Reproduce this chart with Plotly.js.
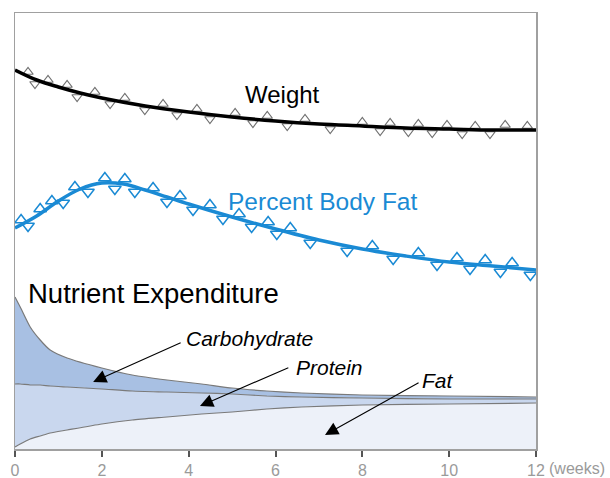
<!DOCTYPE html>
<html>
<head>
<meta charset="utf-8">
<script src="https://cdn.plot.ly/plotly-3.0.1.min.js"></script>
<style>html,body{margin:0;padding:0;background:#fff;}#chart{width:610px;height:478px;}</style>
</head>
<body>
<div id="chart"></div>
<script>
// ---- data (x in weeks, y in arbitrary chart units) ----
const tickVals = [0, 2, 4, 6, 8, 10, 12];
const tickText = ["0", "2", "4", "6", "8", "10", "12"];

const weightWeeks = [0, 0.5, 1, 1.5, 2, 3, 4, 5, 6, 7, 8, 9, 10, 11, 12];
const weightTrend = [379, 369, 362, 356, 351, 343, 337, 332, 328, 325, 323, 321, 320, 319, 319];
const weightObsWeeks = [0.30, 0.46, 0.76, 1.20, 1.43, 1.84, 2.19, 2.53, 2.99, 3.41, 3.73, 4.19, 4.49, 5.07, 5.48, 5.81, 6.27, 6.68, 7.26, 8.00, 8.41, 8.64, 9.06, 9.29, 9.61, 9.95, 10.30, 10.60, 10.94, 11.29, 11.80];
const weightObs = [377, 365, 369, 364, 352, 357, 345, 351, 339, 345, 334, 340, 330, 336, 326, 333, 323, 330, 320, 327, 318, 326, 317, 325, 316, 324, 315, 323, 315, 324, 323];

const bodyFatWeeks = [0, 0.5, 1, 1.5, 2, 2.5, 3, 3.5, 4, 5, 6, 7, 8, 9, 10, 11, 12];
const bodyFatTrend = [221, 233, 248, 260, 266, 265, 259, 252, 245, 232, 220, 209, 200, 193, 187, 183, 179];
const bodyFatObsWeeks = [0.14, 0.30, 0.58, 0.85, 1.11, 1.38, 1.68, 2.07, 2.30, 2.53, 2.76, 3.18, 3.50, 3.80, 4.10, 4.49, 4.79, 5.16, 5.45, 5.83, 6.03, 6.34, 6.80, 7.65, 8.23, 8.71, 9.29, 9.72, 10.18, 10.48, 10.83, 11.18, 11.45, 11.87];
const bodyFatObs = [229, 223, 240, 248, 246, 262, 257, 271, 260, 270, 257, 261, 247, 253, 239, 244, 230, 235, 222, 227, 215, 221, 206, 198, 203, 190, 196, 184, 191, 180, 189, 177, 186, 174];

const nutrientWeeks = [0, 0.12, 0.35, 0.58, 0.81, 1.2, 2, 2.7, 3.5, 4.3, 5, 5.8, 6.6, 8, 10, 12];
const fatExp = [2, 5, 10, 13, 16, 19, 25, 29, 32, 35, 37, 40, 42, 44, 45, 46];
const proteinExp = [63, 60, 54, 51, 47, 43, 35, 29, 25, 21, 18, 13, 10, 7, 5, 4];
const carbExp = [87, 77, 58, 45, 36, 29, 21, 16, 12, 9, 6, 5, 4, 3, 3, 2];

// ---- helpers ----
function interp(xs, ys, x) {
  if (x <= xs[0]) return ys[0];
  for (let i = 1; i < xs.length; i++) {
    if (x <= xs[i]) {
      const t = (x - xs[i - 1]) / (xs[i] - xs[i - 1]);
      return ys[i - 1] + t * (ys[i] - ys[i - 1]);
    }
  }
  return ys[ys.length - 1];
}
function symbolsFor(obsX, obsY, trendX, trendY) {
  return obsX.map((x, i) => obsY[i] >= interp(trendX, trendY, x) ? "triangle-up-open" : "triangle-down-open");
}

const blue = "#1a8ad4";
const edge = "#7a7a7a";
const FONT = "Liberation Sans, Arial, sans-serif";

const traces = [
  {x: nutrientWeeks, y: fatExp, type: "scatter", mode: "lines", stackgroup: "n",
   line: {color: edge, width: 1.2, shape: "spline", smoothing: 0.6}, fillcolor: "#edf1f9", hoverinfo: "skip"},
  {x: nutrientWeeks, y: proteinExp, type: "scatter", mode: "lines", stackgroup: "n",
   line: {color: edge, width: 1.2, shape: "spline", smoothing: 0.6}, fillcolor: "#c9d7ee", hoverinfo: "skip"},
  {x: nutrientWeeks, y: carbExp, type: "scatter", mode: "lines", stackgroup: "n",
   line: {color: edge, width: 1.2, shape: "spline", smoothing: 0.6}, fillcolor: "#a8c0e3", hoverinfo: "skip"},

  {x: weightObsWeeks, y: weightObs, type: "scatter", mode: "markers",
   marker: {symbol: symbolsFor(weightObsWeeks, weightObs, weightWeeks, weightTrend), size: 9, color: "#707070", line: {width: 1.2, color: "#707070"}}},
  {x: weightWeeks, y: weightTrend, type: "scatter", mode: "lines",
   line: {color: "#000", width: 3.5, shape: "spline"}},

  {x: bodyFatObsWeeks, y: bodyFatObs, type: "scatter", mode: "markers",
   marker: {symbol: symbolsFor(bodyFatObsWeeks, bodyFatObs, bodyFatWeeks, bodyFatTrend), size: 11, color: blue, line: {width: 1.5, color: blue}}},
  {x: bodyFatWeeks, y: bodyFatTrend, type: "scatter", mode: "lines",
   line: {color: blue, width: 3.5, shape: "spline"}}
];

const txt = (text, x, y, size, color, italic) => ({
  text: text, x: x, y: y, xref: "x", yref: "y", xanchor: "left", yanchor: "middle", showarrow: false,
  font: {family: FONT, size: size, color: color, style: italic ? "italic" : "normal"}
});
const arrow = (x, y, ax, ay) => ({
  text: "", x: x, y: y, ax: ax, ay: ay, xref: "x", yref: "y", axref: "x", ayref: "y",
  showarrow: true, arrowhead: 2, arrowsize: 2.4, arrowwidth: 1.1, arrowcolor: "#000"
});

const layout = {
  width: 610, height: 478,
  margin: {l: 15, r: 74, t: 13, b: 29, pad: 0},
  paper_bgcolor: "#fff", plot_bgcolor: "#fff",
  showlegend: false,
  xaxis: {range: [0, 12], tickvals: tickVals, ticktext: tickText, ticks: "outside", ticklen: 6, tickwidth: 2,
          tickcolor: "#555", showgrid: false, zeroline: false, showline: true, linecolor: "#a0a0a0", linewidth: 1.5,
          mirror: true, tickfont: {family: FONT, size: 16, color: "#9a9a9a"}},
  yaxis: {range: [0, 436], showticklabels: false, ticks: "", showgrid: false, zeroline: false,
          showline: true, linecolor: "#a0a0a0", linewidth: 1.5, mirror: true},
  annotations: [
    txt("Weight", 5.25, 355, 24, "#000", false),
    txt("Percent Body Fat", 4.85, 248, 24.5, blue, false),
    txt("Nutrient Expenditure", 0.26, 156, 27.5, "#000", false),
    txt("Carbohydrate", 3.90, 111, 21, "#000", true),
    txt("Protein", 6.43, 82, 21, "#000", true),
    txt("Fat", 9.33, 69, 21, "#000", true),
    arrow(1.80, 67, 3.85, 107),
    arrow(4.26, 43, 6.33, 82),
    arrow(7.14, 14, 9.33, 67),
    {text: "(weeks)", xref: "paper", yref: "paper", x: 1, y: 0, xanchor: "left", yanchor: "top",
     xshift: 11, yshift: -9, showarrow: false,
     font: {family: FONT, size: 16, color: "#9a9a9a"}}
  ]
};

Plotly.newPlot("chart", traces, layout, {staticPlot: true, displayModeBar: false});
</script>
</body>
</html>
